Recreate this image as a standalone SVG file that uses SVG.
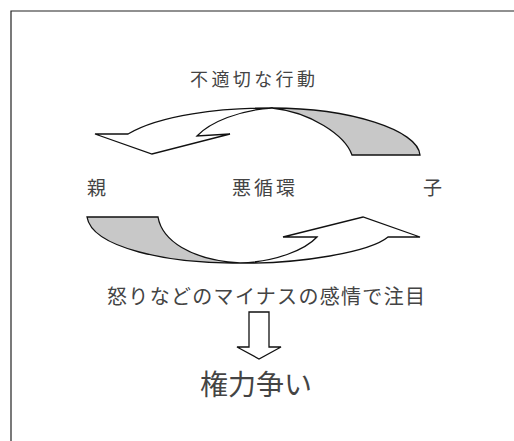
<svg xmlns="http://www.w3.org/2000/svg" width="514" height="441" viewBox="0 0 514 441">
<style>
.t{font-family:"Noto Sans CJK JP","Noto Sans CJK SC",sans-serif;fill:#444}
.w{fill:#fff;stroke:#111;stroke-width:1.3;stroke-linejoin:miter}
.g{fill:#c8c8c8;stroke:#111;stroke-width:1.3;stroke-linejoin:miter}
</style>
<rect width="514" height="441" fill="#fff"/>
<path d="M11,441 V11 H514" fill="none" stroke="#222" stroke-width="1.2"/>
<g id="label-top"><text class="t" x="190" y="86" font-size="18" textLength="125" lengthAdjust="spacing">不適切な行動</text></g>
<g id="node-parent"><text class="t" x="87" y="195" font-size="19">親</text></g>
<g id="label-center"><text class="t" x="232" y="195" font-size="19" textLength="63" lengthAdjust="spacing">悪循環</text></g>
<g id="node-child"><text class="t" x="423" y="195" font-size="19">子</text></g>
<g id="label-bottom"><text class="t" x="107" y="303.5" font-size="20" textLength="318" lengthAdjust="spacing">怒りなどのマイナスの感情で注目</text></g>
<g id="node-result"><text class="t" x="200" y="395" font-size="28" textLength="112" lengthAdjust="spacing">権力争い</text></g>
<g id="connectors">
<g id="arrow-top">
<path class="g" d="M272,108 C350,108 418,130 420,155 L352,155 C345,135 310,112 272,108 Z"/>
<path class="w" d="M272,108 C220,108 160,115 128,134 L95,134 L152,154 L230,134 L197,136 C210,122 240,110 272,108 Z"/>
</g>
<g id="arrow-bottom">
<path class="g" d="M87,217 L158,217 C162,240 190,260 240,263 C170,264 92,248 87,217 Z"/>
<path class="w" d="M240,263 C300,264 370,252 388,237 L420,237 L363,217 L283,237 L317,237 C305,250 275,262 240,263 Z"/>
</g>
<path id="arrow-down" class="w" d="M249,312 H269 V347 H281 L259,359 L237,347 H249 Z"/>
</g>
</svg>
